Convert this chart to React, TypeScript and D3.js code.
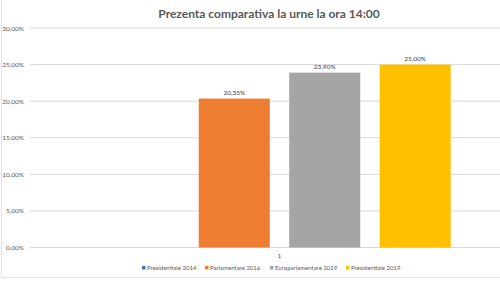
import React, { useEffect, useRef } from "react";
import * as d3 from "d3";

const categories = ["1"];
const series = [
  "Presidentiale 2014",
  "Parlamentare 2016",
  "Europarlamentare 2019",
  "Presidentiale 2019",
];
const values = [null, 20.35, 23.9, 25.0];
const yTicks = [0, 5, 10, 15, 20, 25, 30];
const colors = ["#4472C4", "#ED7D31", "#A5A5A5", "#FFC000"];

const fmt = (v: number) => v.toFixed(2).replace(".", ",") + "%";

export default function App() {
  const ref = useRef<SVGSVGElement>(null);
  const width = 500;
  const height = 281;

  useEffect(() => {
    const svg = d3.select(ref.current);
    const font = "Lato, 'Open Sans', sans-serif";

    // frame (left + bottom edges visible)
    svg
      .append("path")
      .attr("d", "M1.5,0V277.5H500")
      .attr("fill", "none")
      .attr("stroke", "#e4e4e4");

    svg
      .append("text")
      .attr("x", 269)
      .attr("y", 18)
      .attr("text-anchor", "middle")
      .attr("font-family", font)
      .attr("font-weight", "bold")
      .attr("font-size", 12)
      .attr("fill", "#595959")
      .text("Prezenta comparativa la urne la ora 14:00");

    const y = d3.scaleLinear().domain([0, 30]).range([247.5, 28]);

    const x0 = d3.scaleBand().domain(categories).range([59, 500]).paddingOuter(0.144);
    const x1 = d3
      .scaleBand()
      .domain(series)
      .range([0, x0.bandwidth()])
      .paddingInner(0.215)
      .paddingOuter(0);

    // gridlines + y labels
    const grid = svg.append("g");
    grid
      .selectAll("line")
      .data(yTicks)
      .join("line")
      .attr("x1", 30)
      .attr("x2", 500)
      .attr("y1", d => y(d))
      .attr("y2", d => y(d))
      .attr("stroke", "#d9d9d9")
      .attr("stroke-width", 1);
    grid
      .selectAll("text")
      .data(yTicks)
      .join("text")
      .attr("x", 24)
      .attr("y", d => y(d) + 2.5)
      .attr("text-anchor", "end")
      .attr("font-family", font)
      .attr("font-size", 6.5)
      .attr("fill", "#595959")
      .text(d => fmt(d));

    // bars
    const g = svg
      .append("g")
      .selectAll("g")
      .data(categories)
      .join("g")
      .attr("transform", d => `translate(${x0(d)},0)`);

    const items = series
      .map((s, i) => ({ key: s, value: values[i], color: colors[i] }))
      .filter(d => d.value != null) as { key: string; value: number; color: string }[];

    g.selectAll("rect")
      .data(items)
      .join("rect")
      .attr("x", d => x1(d.key)!)
      .attr("y", d => y(d.value))
      .attr("width", x1.bandwidth())
      .attr("height", d => y(0) - y(d.value))
      .attr("fill", d => d.color);

    g.selectAll("text")
      .data(items)
      .join("text")
      .attr("x", d => x1(d.key)! + x1.bandwidth() / 2)
      .attr("y", d => y(d.value) - 4)
      .attr("text-anchor", "middle")
      .attr("font-family", font)
      .attr("font-size", 6.5)
      .attr("fill", "#404040")
      .text(d => fmt(d.value));

    // category label
    svg
      .append("g")
      .selectAll("text")
      .data(categories)
      .join("text")
      .attr("x", d => x0(d)! + x0.bandwidth() / 2)
      .attr("y", 258)
      .attr("text-anchor", "middle")
      .attr("font-family", font)
      .attr("font-size", 6.5)
      .attr("fill", "#595959")
      .text(d => d);

    // legend
    const legendX = [142, 205, 270, 346];
    const leg = svg
      .append("g")
      .selectAll("g")
      .data(series)
      .join("g")
      .attr("transform", (d, i) => `translate(${legendX[i]},270)`);
    leg
      .append("rect")
      .attr("x", 0)
      .attr("y", -4)
      .attr("width", 3.5)
      .attr("height", 3.5)
      .attr("fill", (d, i) => colors[i]);
    leg
      .append("text")
      .attr("x", 5)
      .attr("y", 0)
      .attr("font-family", font)
      .attr("font-size", 6)
      .attr("fill", "#595959")
      .text(d => d);

    return () => {
      svg.html("");
    };
  }, []);

  return (
    <svg
      ref={ref}
      width={width}
      height={height}
      style={{ position: "absolute", left: 0, top: 0 }}
    />
  );
}
